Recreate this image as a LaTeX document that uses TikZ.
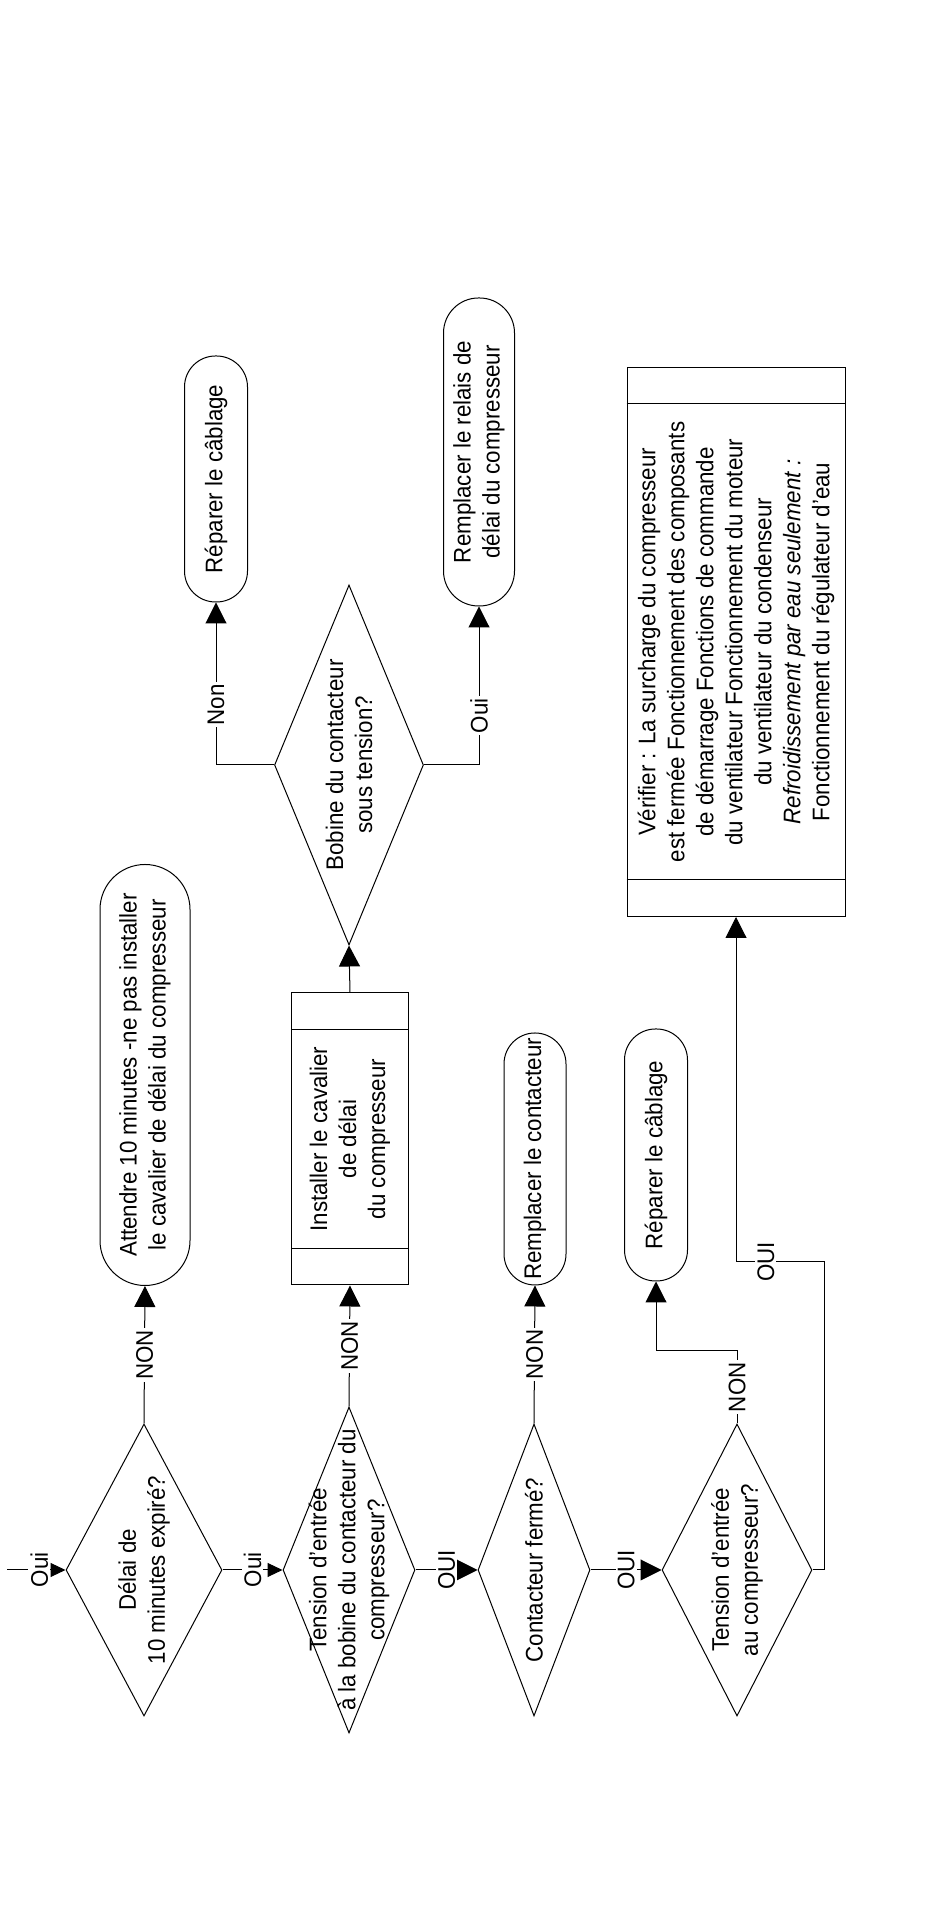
\documentclass[tikz,border=0pt]{standalone}
\usepackage{fontspec}
\setmainfont{Liberation Sans}[FakeStretch=0.93]
\usetikzlibrary{arrows.meta,positioning,calc,shapes.geometric}
\newcommand{\flowfont}{\fontsize{24}{29}\selectfont}

\begin{document}
\begin{tikzpicture}[x=1pt, y=-1pt, rotate=90, transform shape, font=\flowfont,
    decision/.style={draw, diamond, inner sep=0pt, line width=1pt},
    term/.style={draw, rectangle, rounded corners=#1, inner sep=0pt, align=center, line width=1pt},
    proc/.style={draw, rectangle, inner sep=0pt, align=center, line width=1pt},
    lbl/.style={fill=white, inner sep=2pt},
    arr/.style={line width=1pt, -{Triangle[length=21pt, width=21pt]}},
    arrS/.style={line width=1pt, -{Triangle[length=15pt, width=14pt]}},
    every label/.style={align=center}]
  \useasboundingbox (0,0) rectangle (1921,950);

  % questions
  \node[decision, minimum width=292pt, minimum height=156pt, label=center:{Délai de\\10 minutes expiré?}] (d1) at (351,144) {};
  \node[decision, minimum width=326pt, minimum height=132pt, label=center:{Tension d’entrée\\à la bobine du contacteur du\\compresseur?}] (d2) at (351,349) {};
  \node[decision, minimum width=292pt, minimum height=112pt, label=center:{Contacteur fermé?}] (d3) at (351,534) {};
  \node[decision, minimum width=292pt, minimum height=150pt, label=center:{Tension d’entrée\\au compresseur?}] (d4) at (351,737) {};
  \node[decision, minimum width=360pt, minimum height=149pt, label=center:{Bobine du contacteur\\sous tension?}] (bob) at (1156,349) {};

  % actions
  \node[term=45pt, minimum width=421pt, minimum height=90pt] (att) at (846,145) {Attendre 10 minutes -ne pas installer\\le cavalier de délai du compresseur};
  \node[proc, minimum width=292pt, minimum height=117pt] (inst) at (782,350) {Installer le cavalier\\de délai\\du compresseur};
  \node[term=31pt, minimum width=252pt, minimum height=62pt] (rc) at (762,535) {Remplacer le contacteur};
  \node[term=31pt, minimum width=252pt, minimum height=63pt] (rep2) at (766,656) {Réparer le câblage};
  \node[term=31pt, minimum width=246pt, minimum height=63pt] (rep1) at (1442,216) {Réparer le câblage};
  \node[term=35pt, minimum width=308pt, minimum height=71pt] (rel) at (1469,479) {Remplacer le relais de\\délai du compresseur};
  \node[proc, minimum width=549pt, minimum height=218pt] (chk) at (1279,736) {Vérifier : La surcharge du compresseur\\est fermée Fonctionnement des composants\\de démarrage Fonctions de commande\\du ventilateur Fonctionnement du moteur\\du ventilateur du condenseur\\\textit{Refroidissement par eau seulement :}\\Fonctionnement du régulateur d’eau};
  \draw[line width=1pt] ($(inst.north west)!37pt!(inst.north east)$) -- ($(inst.south west)!37pt!(inst.south east)$);
  \draw[line width=1pt] ($(inst.north east)!37pt!(inst.north west)$) -- ($(inst.south east)!37pt!(inst.south west)$);
  \draw[line width=1pt] ($(chk.north west)!37pt!(chk.north east)$) -- ($(chk.south west)!37pt!(chk.south east)$);
  \draw[line width=1pt] ($(chk.north east)!37pt!(chk.north west)$) -- ($(chk.south east)!37pt!(chk.south west)$);

  % corners
  \coordinate (start) at (351,7);
  \coordinate (k4a) at (570,737);
  \coordinate (k4b) at (570,656);
  \coordinate (k5) at (351,824);
  \coordinate (k6) at (659,824);
  \coordinate (k7) at (659,736);
  \coordinate (kb1) at (1156,216);
  \coordinate (kb2) at (1156,479);

  % yes
  \draw[arrS] (start) -- node[lbl, pos=0.55] {Oui} (d1.north);
  \draw[arrS] (d1.south) -- node[lbl] {Oui} (d2.north);
  \draw[arr] (d2.south) -- node[lbl] {OUI} (d3.north);
  \draw[arr] (d3.south) -- node[lbl] {OUI} (d4.north);
  \draw[arr] (d4.south) -- (k5) -- (k6) -- node[lbl, pos=0.66] {OUI} (k7) -- (chk.west);
  % no
  \draw[arr] (d1.east) -- node[lbl] {NON} (att.west);
  \draw[arr] (d2.east) -- node[lbl] {NON} (inst.west);
  \draw[arr] (d3.east) -- node[lbl] {NON} (rc.west);
  \draw[arr] (d4.east) -- node[lbl] {NON} (k4a) -- (k4b) -- (rep2.west);
  % coil branch
  \draw[arr] (inst.east) -- (bob.west);
  \draw[arr] (bob.north) -- (kb1) -- node[lbl, pos=0.37] {Non} (rep1.west);
  \draw[arr] (bob.south) -- (kb2) -- node[lbl, pos=0.31] {Oui} (rel.west);
\end{tikzpicture}
\end{document}
